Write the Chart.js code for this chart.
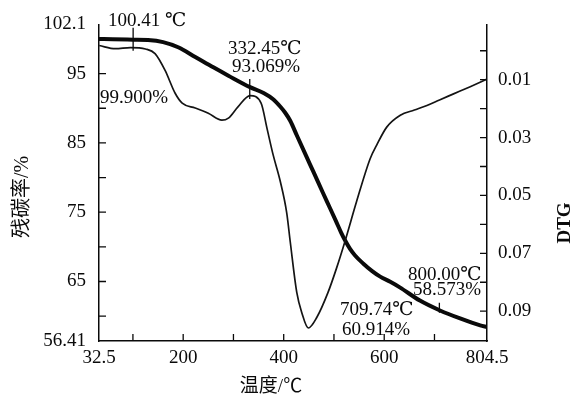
<!DOCTYPE html>
<html>
<head>
<meta charset="utf-8">
<script src="https://cdn.jsdelivr.net/npm/chart.js@4.4.1/dist/chart.umd.min.js"></script>
<style>
  html, body { margin: 0; padding: 0; background: #fff; }
  #tga { display: block; }
</style>
</head>
<body>
<canvas id="tga" width="583" height="398"></canvas>
<script>
/* TG / DTG curve */

// TG curve (thick): temperature in °C, residual carbon in %
const tgTemp = [32.5, 60, 100, 130, 160, 190, 224, 260, 290, 333, 360, 379, 393, 403, 413, 426, 446, 459, 478, 492, 504, 514, 522, 532, 542, 558, 576, 592, 612, 631, 671, 711, 751, 791, 804.5];
const tgMass = [100.0, 99.95, 99.9, 99.85, 99.55, 98.8, 97.4, 95.9, 94.7, 93.05, 92.2, 91.3, 90.25, 89.35, 88.2, 86.1, 82.9, 80.85, 77.8, 75.6, 73.7, 72.1, 70.95, 69.7, 68.75, 67.6, 66.5, 65.7, 64.95, 64.15, 62.24, 60.81, 59.66, 58.66, 58.42];

// DTG curve (thin), right axis
const dtgTemp = [33, 65, 95, 125, 144, 164, 184, 198, 224, 250, 277, 290, 309, 333, 355, 367, 379, 393, 406, 413, 426, 436, 449, 466, 488, 505, 522, 545, 572, 585, 605, 632, 660, 685, 710, 738, 770, 804.5];
const dtgRate = [-0.0018, -0.0007, -0.0011, -0.0006, 0.001, 0.0068, 0.0147, 0.0181, 0.0198, 0.0216, 0.024, 0.0233, 0.0194, 0.0155, 0.0181, 0.027, 0.036, 0.045, 0.056, 0.066, 0.0835, 0.0905, 0.0958, 0.0921, 0.0836, 0.0752, 0.0658, 0.0521, 0.0373, 0.0326, 0.0264, 0.0223, 0.0205, 0.0189, 0.017, 0.0149, 0.0125, 0.0098];

// axes
const tempRange = [32.5, 804.5];
const massRange = [56.41, 102.1];
const dtgRange = [-0.0091, 0.1003];
const xLabelTicks = [32.5, 200, 400, 600, 804.5];
const xMinorTicks = [100, 200, 300, 400, 500, 600, 700];
const tgLabelTicks = [56.41, 65, 75, 85, 95, 102.1];
const tgMinorTicks = [60, 65, 70, 75, 80, 85, 90, 95, 100];
const dtgLabelTicks = [0.01, 0.03, 0.05, 0.07, 0.09];
const dtgMinorTicks = [0, 0.01, 0.02, 0.03, 0.04, 0.05, 0.06, 0.07, 0.08, 0.09];

// marked points on TG curve and their notes
const markerTemps = [100.41, 332.45, 709.74];
const markerMass = [99.9, 93.069, 60.914];
const noteTexts = ['100.41 ℃', '332.45℃', '93.069%', '99.900%', '800.00℃', '58.573%', '709.74℃', '60.914%'];

const xTitle = '温度/℃';
const yTitle = '残碳率/%';
const y2Title = 'DTG';

const SERIF = '"Liberation Serif", "DejaVu Serif", serif';
const CJK = '"Liberation Serif", "Noto Sans CJK SC", serif';
const INK = '#0a0a0a';

// ── inward ticks, markers, notes, titles ───────────────
const decorPlugin = {
    id: 'decor',
    afterDatasetsDraw(chart) {
        const { ctx, chartArea: a, scales } = chart;
        const x = scales.x, y = scales.y, y2 = scales.y2;
        ctx.save();
        ctx.strokeStyle = INK;
        ctx.lineWidth = 1.3;
        ctx.beginPath();
        xMinorTicks.forEach(v => {
            const p = x.getPixelForValue(v);
            ctx.moveTo(p, a.bottom); ctx.lineTo(p, a.bottom - 7);
        });
        tgMinorTicks.forEach(v => {
            const p = y.getPixelForValue(v);
            ctx.moveTo(a.left, p); ctx.lineTo(a.left + 7, p);
        });
        dtgMinorTicks.forEach(v => {
            const p = y2.getPixelForValue(v);
            ctx.moveTo(a.right, p); ctx.lineTo(a.right - 7, p);
        });
        const reach = [[12, 11], [8, 12], [7, 3]];
        markerTemps.forEach((t, i) => {
            const px = x.getPixelForValue(t), py = y.getPixelForValue(markerMass[i]);
            ctx.moveTo(px, py - reach[i][0]); ctx.lineTo(px, py + reach[i][1]);
        });
        ctx.stroke();

        ctx.fillStyle = INK;
        ctx.textBaseline = 'middle';
        ctx.textAlign = 'left';
        ctx.font = `19px ${SERIF}`;
        const spots = [[108, 21], [228, 49], [232, 67], [100, 98], [408, 275], [413, 290], [340, 310], [342, 330]];
        noteTexts.forEach((s, i) => ctx.fillText(s, spots[i][0], spots[i][1]));

        ctx.textAlign = 'center';
        ctx.font = `19px ${CJK}`;
        ctx.fillText(xTitle, 271, 387);

        ctx.save();
        ctx.translate(23, 197);
        ctx.rotate(-Math.PI / 2);
        ctx.font = `20px ${CJK}`;
        ctx.fillText(yTitle, 0, 0);
        ctx.restore();

        ctx.save();
        ctx.translate(565, 223);
        ctx.rotate(-Math.PI / 2);
        ctx.font = `bold 19px ${SERIF}`;
        ctx.fillText(y2Title, 0, 0);
        ctx.restore();

        ctx.restore();
    }
};

const setTicks = list => scale => { scale.ticks = list.map(v => ({ value: v })); };
const axisBorder = { display: true, color: INK, width: 1.5 };
const tickFont = { family: SERIF, size: 19 };

new Chart(document.getElementById('tga'), {
    type: 'line',
    data: {
        datasets: [
            {
                label: 'DTG',
                data: dtgTemp.map((t, i) => ({ x: t, y: dtgRate[i] })),
                yAxisID: 'y2',
                borderColor: '#141414',
                borderWidth: 1.7,
                pointRadius: 0,
                cubicInterpolationMode: 'monotone'
            },
            {
                label: 'TG',
                data: tgTemp.map((t, i) => ({ x: t, y: tgMass[i] })),
                yAxisID: 'y',
                borderColor: '#0a0a0a',
                borderWidth: 4,
                pointRadius: 0,
                cubicInterpolationMode: 'monotone'
            }
        ]
    },
    options: {
        responsive: false,
        devicePixelRatio: 1,
        animation: false,
        events: [],
        layout: { padding: { top: 22, left: 0, right: 0, bottom: 0 } },
        plugins: { legend: { display: false }, tooltip: { enabled: false } },
        scales: {
            x: {
                type: 'linear',
                min: tempRange[0], max: tempRange[1],
                afterBuildTicks: setTicks(xLabelTicks),
                afterFit: s => { s.height = 57; },
                grid: { display: false, drawTicks: false },
                border: axisBorder,
                ticks: { font: tickFont, color: INK, padding: 6, maxRotation: 0, autoSkip: false, callback: v => String(v) }
            },
            y: {
                type: 'linear',
                position: 'left',
                min: massRange[0], max: massRange[1],
                afterBuildTicks: setTicks(tgLabelTicks),
                afterFit: s => { s.width = 99; },
                grid: { display: false, drawTicks: false },
                border: axisBorder,
                ticks: { font: tickFont, color: INK, padding: 13, autoSkip: false, callback: v => String(v) }
            },
            y2: {
                type: 'linear',
                position: 'right',
                reverse: true,
                min: dtgRange[0], max: dtgRange[1],
                afterBuildTicks: setTicks(dtgLabelTicks),
                afterFit: s => { s.width = 96; },
                grid: { display: false, drawTicks: false },
                border: axisBorder,
                ticks: { font: tickFont, color: INK, padding: 11, autoSkip: false, callback: v => v.toFixed(2) }
            }
        }
    },
    plugins: [decorPlugin]
});
</script>
</body>
</html>
